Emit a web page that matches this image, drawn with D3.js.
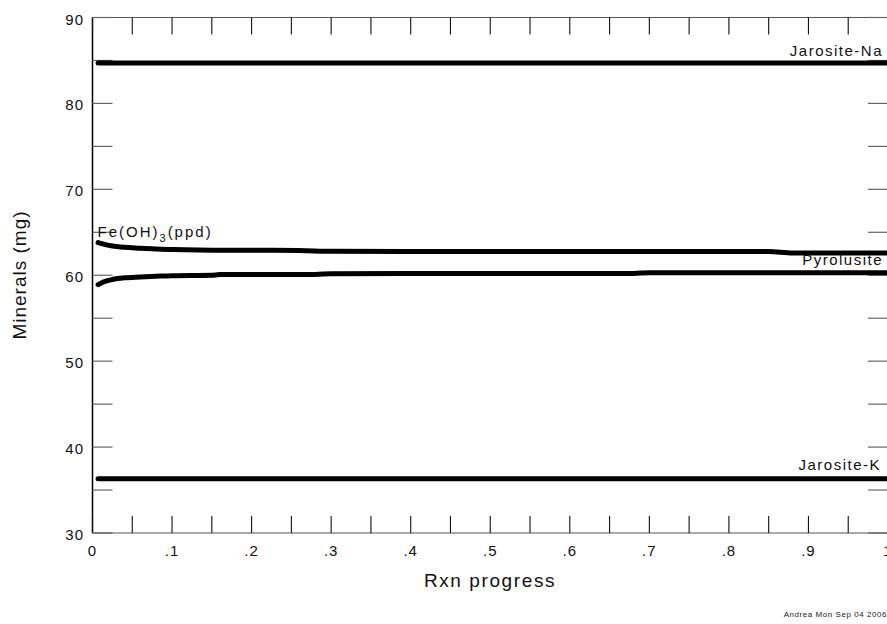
<!DOCTYPE html>
<html>
<head>
<meta charset="utf-8">
<script src="https://cdn.jsdelivr.net/npm/d3@7"></script>
<style>
  html, body { margin: 0; padding: 0; background: #fff; }
  svg { display: block; font-family: "Liberation Sans", Arial, sans-serif; }
</style>
</head>
<body>
<div id="chart"></div>
<script>
// ---- data ----
const xTickValues = [0, 0.1, 0.2, 0.3, 0.4, 0.5, 0.6, 0.7, 0.8, 0.9, 1];
const xTickLabels = ["0", ".1", ".2", ".3", ".4", ".5", ".6", ".7", ".8", ".9", "1"];
const yTickValues = [30, 40, 50, 60, 70, 80, 90];
const yTickLabels = ["30", "40", "50", "60", "70", "80", "90"];

const jarositeNaX = [0.007, 1.0];
const jarositeNaY = [84.7, 84.7];

const feOH3X = [0.007, 0.015, 0.025, 0.04, 0.06, 0.08, 0.1, 0.15, 0.26, 0.3, 0.5, 0.7, 0.85, 0.88, 1.0];
const feOH3Y = [63.8, 63.6, 63.4, 63.25, 63.15, 63.05, 63.0, 62.92, 62.88, 62.78, 62.76, 62.76, 62.76, 62.6, 62.6];

const pyrolusiteX = [0.007, 0.015, 0.025, 0.04, 0.06, 0.08, 0.1, 0.15, 0.16, 0.28, 0.3, 0.5, 0.68, 0.7, 1.0];
const pyrolusiteY = [58.9, 59.25, 59.5, 59.7, 59.8, 59.88, 59.95, 60.0, 60.08, 60.1, 60.18, 60.2, 60.2, 60.3, 60.3];

const jarositeKX = [0.007, 1.0];
const jarositeKY = [36.3, 36.3];

const seriesNames = ["Jarosite-Na", "Fe(OH)3(ppd)", "Pyrolusite", "Jarosite-K"];

// ---- layout ----
const W = 887, H = 624;
const mLeft = 92.5, mRight = 888, mTop = 17.5, mBottom = 533;

const svg = d3.select("#chart").append("svg").attr("width", W).attr("height", H);

const x = d3.scaleLinear().domain([0, 1]).range([mLeft, mRight]);
const y = d3.scaleLinear().domain([30, 90]).range([mBottom, mTop]);

// frame (top, bottom, right)
svg.append("line").attr("x1", mLeft).attr("x2", mRight).attr("y1", mTop).attr("y2", mTop)
  .attr("stroke", "#555").attr("stroke-width", 1.2);
svg.append("line").attr("x1", mLeft).attr("x2", mRight).attr("y1", mBottom).attr("y2", mBottom)
  .attr("stroke", "#555").attr("stroke-width", 1.2);
svg.append("line").attr("x1", mRight).attr("x2", mRight).attr("y1", mTop).attr("y2", mBottom)
  .attr("stroke", "#111").attr("stroke-width", 1.2);
// left axis line
svg.append("line").attr("x1", mLeft).attr("x2", mLeft).attr("y1", mTop).attr("y2", mBottom)
  .attr("stroke", "#000").attr("stroke-width", 1.5);

// x ticks (every 0.05) top and bottom, pointing inward
const xMinor = d3.range(0, 21).map(i => i * 0.05);
const tickLen = 17;
svg.append("g").selectAll("line").data(xMinor).join("line")
  .attr("x1", d => x(d)).attr("x2", d => x(d))
  .attr("y1", mBottom).attr("y2", mBottom - tickLen)
  .attr("stroke", "#111").attr("stroke-width", 1.1);
svg.append("g").selectAll("line").data(xMinor).join("line")
  .attr("x1", d => x(d)).attr("x2", d => x(d))
  .attr("y1", mTop).attr("y2", mTop + tickLen)
  .attr("stroke", "#111").attr("stroke-width", 1.1);

// y ticks (every 5) left and right
const yMinor = d3.range(0, 13).map(i => 30 + i * 5);
const yTickLen = 20;
svg.append("g").selectAll("line").data(yMinor).join("line")
  .attr("x1", mLeft).attr("x2", mLeft + yTickLen)
  .attr("y1", d => y(d)).attr("y2", d => y(d))
  .attr("stroke", "#666").attr("stroke-width", 1.2);
svg.append("g").selectAll("line").data(yMinor).join("line")
  .attr("x1", mRight).attr("x2", mRight - yTickLen)
  .attr("y1", d => y(d)).attr("y2", d => y(d))
  .attr("stroke", "#666").attr("stroke-width", 1.2);

// tick labels
svg.append("g").selectAll("text").data(xTickValues).join("text")
  .attr("x", d => x(d)).attr("y", mBottom + 23)
  .attr("text-anchor", "middle")
  .attr("font-size", 15).attr("letter-spacing", 1).attr("fill", "#111")
  .text((d, i) => xTickLabels[i]);

svg.append("g").selectAll("text").data(yTickValues).join("text")
  .attr("x", 84).attr("y", d => y(d) + 7)
  .attr("text-anchor", "end")
  .attr("font-size", 15).attr("letter-spacing", 1).attr("fill", "#111")
  .text((d, i) => yTickLabels[i]);

// axis titles
svg.append("text").attr("x", 490).attr("y", 587)
  .attr("text-anchor", "middle").attr("font-size", 19).attr("letter-spacing", 1.6)
  .attr("fill", "#111").text("Rxn progress");

svg.append("text").attr("transform", "translate(26,275) rotate(-90)")
  .attr("text-anchor", "middle").attr("font-size", 19).attr("letter-spacing", 1)
  .attr("fill", "#111").text("Minerals (mg)");

// footer
svg.append("text").attr("x", 887).attr("y", 616.5)
  .attr("text-anchor", "end").attr("font-size", 8).attr("letter-spacing", 0.55)
  .attr("fill", "#222").text("Andrea Mon Sep 04 2006");

// series lines
const line = d3.line().x(d => x(d[0])).y(d => y(d[1])).curve(d3.curveMonotoneX);
const seriesData = [
  d3.zip(jarositeNaX, jarositeNaY),
  d3.zip(feOH3X, feOH3Y),
  d3.zip(pyrolusiteX, pyrolusiteY),
  d3.zip(jarositeKX, jarositeKY)
];
svg.append("g").selectAll("path").data(seriesData).join("path")
  .attr("d", line)
  .attr("fill", "none").attr("stroke", "#000").attr("stroke-width", 5)
  .attr("stroke-linecap", "round").attr("stroke-linejoin", "round");

// series labels
const lbl = svg.append("g").attr("font-size", 15).attr("letter-spacing", 1.5).attr("fill", "#111");
lbl.append("text").attr("x", 883).attr("y", y(84.7) - 7.5).attr("text-anchor", "end").text(seriesNames[0]);
lbl.append("text").attr("x", 883).attr("y", y(60.3) - 8).attr("text-anchor", "end").text(seriesNames[2]);
lbl.append("text").attr("x", 881).attr("y", y(36.3) - 8.5).attr("text-anchor", "end").text(seriesNames[3]);
const fe = lbl.append("text").attr("x", 97.5).attr("y", y(63.8) - 6).attr("letter-spacing", 2);
fe.append("tspan").text("Fe(OH)");
fe.append("tspan").attr("font-size", 11).attr("dy", 5).text("3");
fe.append("tspan").attr("dy", -5).text("(ppd)");
</script>
</body>
</html>
